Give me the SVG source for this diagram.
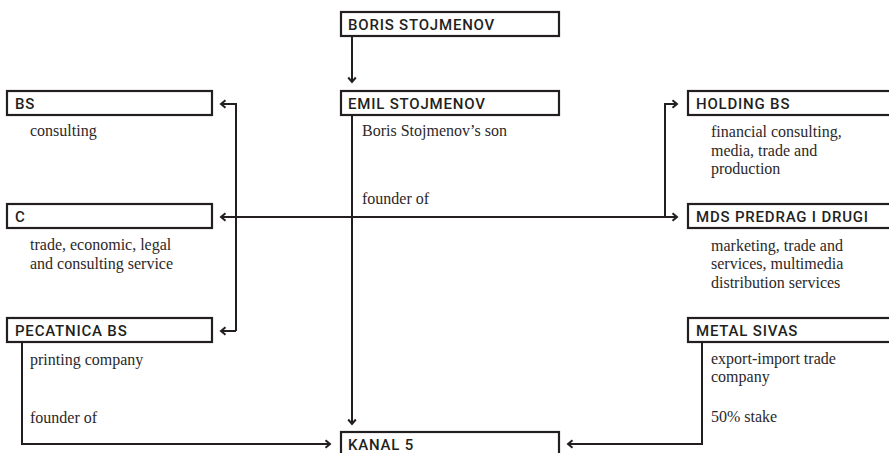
<svg xmlns="http://www.w3.org/2000/svg" width="889" height="453" viewBox="0 0 889 453">
<style>
.box{fill:#fff;stroke:#231f20;stroke-width:2.2}
.hd{font-family:Roboto,"Liberation Sans",sans-serif;font-weight:500;font-size:15px;letter-spacing:0.8px;fill:#231f20}
.tx{font-family:"Liberation Serif",serif;font-size:16px;fill:#2b2829}
.ln{fill:none;stroke:#231f20;stroke-width:2}
</style>
<defs>
<marker id="ah" markerUnits="userSpaceOnUse" markerWidth="12" markerHeight="12" viewBox="-6 -6 12 12" refX="0" refY="0" orient="auto-start-reverse" overflow="visible">
<path d="M-4.5 -3.8 L0 0 L-4.5 3.8" fill="none" stroke="#231f20" stroke-width="2"/>
</marker>
</defs>
<rect width="889" height="453" fill="#fff"/>
<g id="connectors">
<path class="ln" d="M352 36 V82" marker-end="url(#ah)"/>
<path class="ln" d="M352 115 V424" marker-end="url(#ah)"/>
<path class="ln" d="M221 217 H677" marker-start="url(#ah)" marker-end="url(#ah)"/>
<path class="ln" d="M236 331 V104 H221" marker-end="url(#ah)"/>
<path class="ln" d="M236 331 H221" marker-end="url(#ah)"/>
<path class="ln" d="M665 217 V104 H677" marker-end="url(#ah)"/>
<path class="ln" d="M22 342 V444 H330" marker-end="url(#ah)"/>
<path class="ln" d="M702 342 V444 H568" marker-end="url(#ah)"/>
</g>
<g id="boris"><rect class="box" x="341" y="12" width="218" height="24"/><text class="hd" x="348" y="29.5">BORIS STOJMENOV</text></g>
<g id="emil"><rect class="box" x="341" y="91" width="218" height="24"/><text class="hd" x="348" y="108.5">EMIL STOJMENOV</text><text class="tx" x="362" y="136">Boris Stojmenov’s son</text><text class="tx" x="362" y="204">founder of</text></g>
<g id="bs"><rect class="box" x="7" y="91" width="205" height="24"/><text class="hd" x="15" y="108.5">BS</text><text class="tx" x="30" y="136">consulting</text></g>
<g id="c"><rect class="box" x="7" y="204" width="205" height="24"/><text class="hd" x="15" y="221.5">C</text><text class="tx" x="30" y="250">trade, economic, legal</text><text class="tx" x="30" y="268.5">and consulting service</text></g>
<g id="pecatnica"><rect class="box" x="7" y="318" width="205" height="24"/><text class="hd" x="15" y="335.5">PECATNICA BS</text><text class="tx" x="30" y="365">printing company</text><text class="tx" x="30" y="423">founder of</text></g>
<g id="holding"><rect class="box" x="688" y="91" width="220" height="24"/><text class="hd" x="696" y="108.5">HOLDING BS</text><text class="tx" x="711" y="137">financial consulting,</text><text class="tx" x="711" y="155.5">media, trade and</text><text class="tx" x="711" y="174">production</text></g>
<g id="mds"><rect class="box" x="688" y="204" width="220" height="24"/><text class="hd" x="696" y="221.5">MDS PREDRAG I DRUGI</text><text class="tx" x="711" y="250.5">marketing, trade and</text><text class="tx" x="711" y="269">services, multimedia</text><text class="tx" x="711" y="287.5">distribution services</text></g>
<g id="metal"><rect class="box" x="688" y="318" width="220" height="24"/><text class="hd" x="696" y="335.5">METAL SIVAS</text><text class="tx" x="711" y="363.5">export-import trade</text><text class="tx" x="711" y="382">company</text><text class="tx" x="711" y="422">50% stake</text></g>
<g id="kanal"><rect class="box" x="341" y="432" width="218" height="30"/><text class="hd" x="348" y="449.5">KANAL 5</text></g>
</svg>
